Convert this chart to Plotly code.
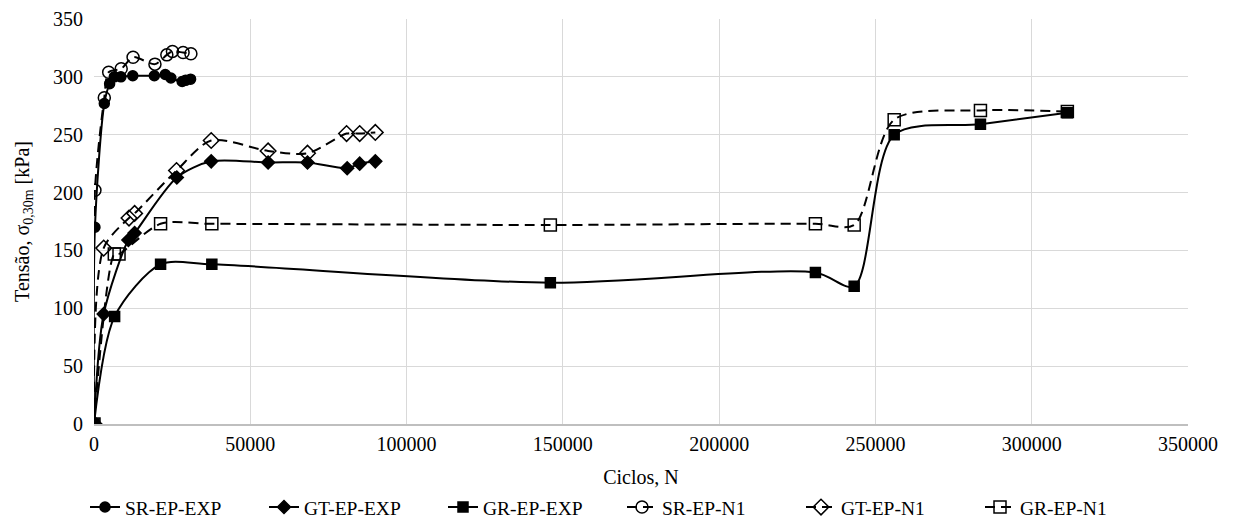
import plotly.graph_objects as go

# ---- data ----
sr_exp_x = [0, 300, 3300, 5000, 6500, 8600, 12400, 19300, 22800, 24600, 28200, 29300, 30900]
sr_exp_y = [0, 170, 277, 294, 300, 300, 301, 301, 302, 299, 296, 297, 298]

gt_exp_x = [0, 3100, 11000, 13000, 26500, 37500, 55700, 68300, 81000, 85000, 90000]
gt_exp_y = [0, 95, 159, 165, 213, 227, 226, 226, 221, 225, 227]

gr_exp_x = [0, 6600, 21300, 37700, 146000, 230800, 243200, 256000, 283600, 311400]
gr_exp_y = [0, 93, 138, 138, 122, 131, 119, 250, 259, 269]

sr_n1_x = [0, 300, 3300, 4700, 8700, 12500, 19500, 23300, 25100, 28500, 31000]
sr_n1_y = [0, 202, 282, 304, 307, 317, 311, 319, 322, 321, 320]

gt_n1_x = [0, 3100, 11200, 13000, 26400, 37500, 55700, 68300, 80800, 85000, 90000]
gt_n1_y = [0, 152, 178, 182, 219, 245, 236, 234, 251, 251, 252]

gr_n1_x = [0, 6500, 8000, 21300, 37700, 146000, 230800, 243200, 256000, 283600, 311400]
gr_n1_y = [0, 147, 147, 173, 173, 172, 173, 172, 263, 271, 270]

series = [
    ("SR-EP-EXP", sr_exp_x, sr_exp_y, "solid", "circle", 10),
    ("GT-EP-EXP", gt_exp_x, gt_exp_y, "solid", "diamond", 10),
    ("GR-EP-EXP", gr_exp_x, gr_exp_y, "solid", "square", 10),
    ("SR-EP-N1", sr_n1_x, sr_n1_y, "10px,6px", "circle-open", 12),
    ("GT-EP-N1", gt_n1_x, gt_n1_y, "10px,6px", "diamond-open", 12),
    ("GR-EP-N1", gr_n1_x, gr_n1_y, "10px,6px", "square-open", 12),
]

fig = go.Figure()
for name, xs, ys, dash, sym, sz in series:
    fig.add_trace(go.Scatter(
        x=xs, y=ys, name=name, mode="lines+markers",
        line=dict(color="black", width=2, dash=dash, shape="spline", smoothing=0.8),
        marker=dict(symbol=sym, size=sz, color="black",
                    line=dict(color="black", width=1.5)),
    ))

font = "Liberation Serif, Times New Roman, serif"
fig.update_layout(
    width=1228, height=522,
    margin=dict(l=86, r=48, t=11, b=106),
    paper_bgcolor="white", plot_bgcolor="white",
    font=dict(family=font, size=20, color="black"),
    showlegend=True,
    legend=dict(orientation="h", x=0.5, xanchor="center", xref="container",
                y=0.006, yanchor="bottom", yref="container",
                font=dict(family=font, size=19.5),
                entrywidth=134, entrywidthmode="pixels",
                tracegroupgap=0),
)
fig.update_xaxes(
    range=[0, 350000], dtick=50000, tickformat="d",
    showgrid=True, gridcolor="#d9d9d9", gridwidth=1,
    showline=True, linecolor="#bfbfbf", linewidth=1.5,
    zeroline=False, ticks="", ticklabelstandoff=1, automargin=False,
    ticklabeloverflow="allow",
    tickfont=dict(family=font, size=20),
    title=dict(text="Ciclos, N", font=dict(family=font, size=20), standoff=17),
)
fig.update_yaxes(
    range=[0, 350], dtick=50,
    showgrid=True, gridcolor="#d9d9d9", gridwidth=1,
    showline=False, zeroline=False, ticks="", ticklabelstandoff=10, automargin=False,
    ticklabeloverflow="allow",
    tickfont=dict(family=font, size=20),
    title=dict(text="Tensão, σ<sub>0,30m</sub> [kPa]", font=dict(family=font, size=20), standoff=18),
)

fig.write_html("out.html")
